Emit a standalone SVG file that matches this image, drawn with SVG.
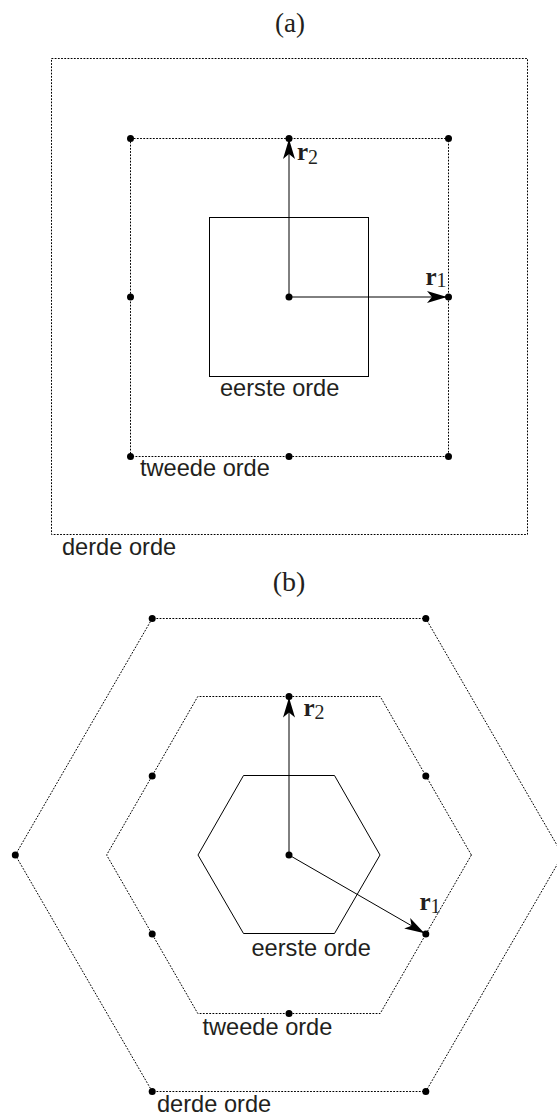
<svg xmlns="http://www.w3.org/2000/svg" width="557" height="1120" viewBox="0 0 557 1120">
<style>
.dotted{fill:none;stroke:#000;stroke-width:1;stroke-dasharray:1.8 1.4}
.solid{fill:none;stroke:#000;stroke-width:1}
.pt{fill:#000}
.vecline{stroke:#000;stroke-width:1;fill:none}
.lbl{font-family:"Liberation Sans",Arial,sans-serif;font-size:23.6px;fill:#231f20}
.title{font-family:"Liberation Serif","Times New Roman",serif;font-size:27px;fill:#231f20;text-anchor:middle}
.vec{font-family:"Liberation Serif","Times New Roman",serif;font-size:25px;font-weight:bold;fill:#231f20}
.sub{font-weight:normal;font-size:20px}
</style>
<defs>
<marker id="arrow" viewBox="-22 -8 24 16" markerWidth="24" markerHeight="16" refX="0" refY="0" markerUnits="userSpaceOnUse" orient="auto">
<path d="M0,0 L-20,-6 L-15,0 L-20,6 Z" fill="#000"/>
</marker>
</defs>

<!-- (a) square lattice -->
<g id="title-a"><text class="title" x="290" y="32">(a)</text></g>
<g id="order3-a"><rect class="dotted" x="51.5" y="58.5" width="476" height="476"/></g>
<g id="order2-a"><rect class="dotted" x="130.5" y="138.5" width="318" height="318"/></g>
<g id="order1-a"><rect class="solid" x="209.5" y="217.5" width="159" height="159"/></g>
<g id="points-a">
<circle class="pt" cx="130.5" cy="138.5" r="3.5"/>
<circle class="pt" cx="289" cy="138.5" r="3.5"/>
<circle class="pt" cx="448.5" cy="138.5" r="3.5"/>
<circle class="pt" cx="130.5" cy="297" r="3.5"/>
<circle class="pt" cx="289" cy="297" r="3.5"/>
<circle class="pt" cx="448.5" cy="297" r="3.5"/>
<circle class="pt" cx="130.5" cy="456.5" r="3.5"/>
<circle class="pt" cx="289" cy="456.5" r="3.5"/>
<circle class="pt" cx="448.5" cy="456.5" r="3.5"/>
</g>
<g id="connectors-a">
<line class="vecline" x1="289" y1="297" x2="289" y2="139" marker-end="url(#arrow)"/>
<line class="vecline" x1="289" y1="297" x2="447" y2="297" marker-end="url(#arrow)"/>
</g>
<g id="labels-a">
<text class="vec" x="297" y="159.5">r<tspan class="sub" dy="4">2</tspan></text>
<text class="vec" x="425.5" y="285">r<tspan class="sub" dy="2">1</tspan></text>
<text class="lbl" x="220" y="396">eerste orde</text>
<text class="lbl" x="140" y="476">tweede orde</text>
<text class="lbl" x="62" y="555">derde orde</text>
</g>

<!-- (b) hexagonal lattice -->
<g id="title-b"><text class="title" x="289" y="591" style="font-size:28px">(b)</text></g>
<g id="order3-b"><polygon class="dotted" points="562.7,855 425.8,1091.5 152.2,1091.5 15.3,855 152.2,618.5 425.8,618.5"/></g>
<g id="order2-b"><polygon class="dotted" points="471.4,855 380.2,1013.5 197.8,1013.5 106.6,855 197.8,696.5 380.2,696.5"/></g>
<g id="order1-b"><polygon class="solid" points="380,855 334.5,933.5 243.5,933.5 198,855 243.5,775.5 334.5,775.5"/></g>
<g id="points-b">
<circle class="pt" cx="152.2" cy="618.5" r="3.5"/>
<circle class="pt" cx="425.8" cy="618.5" r="3.5"/>
<circle class="pt" cx="15.3" cy="855" r="3.5"/>
<circle class="pt" cx="152.2" cy="1091.5" r="3.5"/>
<circle class="pt" cx="425.8" cy="1091.5" r="3.5"/>
<circle class="pt" cx="289" cy="696.5" r="3.5"/>
<circle class="pt" cx="289" cy="1013.5" r="3.5"/>
<circle class="pt" cx="152.2" cy="776" r="3.5"/>
<circle class="pt" cx="425.8" cy="776" r="3.5"/>
<circle class="pt" cx="152.2" cy="934" r="3.5"/>
<circle class="pt" cx="425.8" cy="934" r="3.5"/>
<circle class="pt" cx="289" cy="855" r="3.5"/>
</g>
<g id="connectors-b">
<line class="vecline" x1="289" y1="855" x2="289" y2="697.5" marker-end="url(#arrow)"/>
<line class="vecline" x1="289" y1="855" x2="424.5" y2="933.2" marker-end="url(#arrow)"/>
</g>
<g id="labels-b">
<text class="vec" x="303.5" y="716">r<tspan class="sub" dy="3">2</tspan></text>
<text class="vec" x="419.5" y="910">r<tspan class="sub" dy="3">1</tspan></text>
<text class="lbl" x="251.5" y="956">eerste orde</text>
<text class="lbl" x="202.5" y="1035">tweede orde</text>
<text class="lbl" x="157" y="1112">derde orde</text>
</g>
</svg>
